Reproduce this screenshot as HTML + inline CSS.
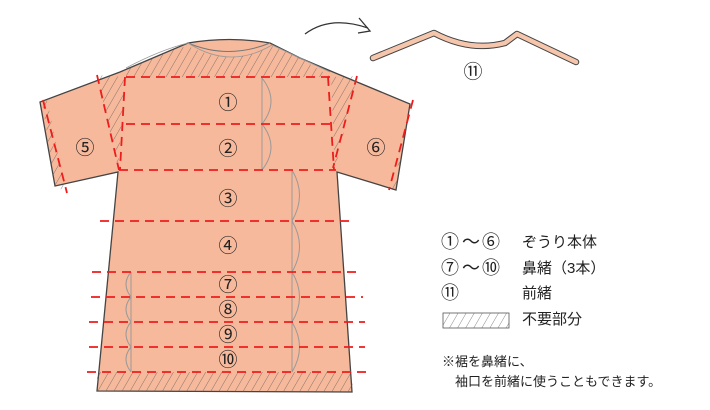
<!DOCTYPE html>
<html><head><meta charset="utf-8"><style>
html,body{margin:0;padding:0;background:#fff;}
svg{display:block}
text{font-family:"Liberation Sans","Noto Sans CJK JP",sans-serif;fill:#222}
</style></head><body>
<svg width="710" height="410" viewBox="0 0 710 410" xmlns="http://www.w3.org/2000/svg">
<defs>
<pattern id="h" width="7" height="7" patternUnits="userSpaceOnUse" patternTransform="rotate(30)">
<line x1="0" y1="0" x2="0" y2="7" stroke="#555" stroke-width="0.7"/>
</pattern>
</defs>
<path d="M188,43 Q230,36 270,43 L300,58 L333,72 L410,104 L396,190 L337,172 L352,392 L97,391 L118,172 L55,186 L40,102 L120,72 Z" fill="#f7b99b" stroke="#444" stroke-width="1.3"/>
<path d="M188,43 Q228,60 270,43" fill="none" stroke="#777" stroke-width="1"/>
<path d="M126,68 Q160,50 188,43 Q230,70 272,45 L330,72" fill="none" stroke="#999" stroke-width="0.8"/>
<path d="M126,70 Q160,52 188,46 Q230,68 272,46 L300,58 L331,77 L126,77 Z" fill="url(#h)"/>
<path d="M97,75 L125,77 L118,170 L119,172 Z" fill="url(#h)"/>
<path d="M331,77 L357,76 L335,170 Z" fill="url(#h)"/>
<path d="M97,372 L352,372 L353,392 L97,391 Z" fill="url(#h)"/>
<path d="M42,102 L47,100 L66,192 L55,186 Z" fill="url(#h)"/>
<path d="M410,104 L413,100 L392,190 L396,190 Z" fill="url(#h)"/>
<g fill="none" stroke="#999" stroke-width="1">
<line x1="262" y1="78" x2="262" y2="170"/>
<path d="M262,78 Q280,101 262,124 Q280,147 262,170"/>
<line x1="292" y1="170" x2="292" y2="372"/>
<path d="M292,170 Q307,195 292,221 Q307,246 292,272 Q307,297 292,322 Q307,347 292,372"/>
<line x1="131" y1="272" x2="131" y2="372"/>
<path d="M131,272 Q121,284 131,297 Q121,309 131,322 Q121,334 131,347 Q121,359 131,372"/>
</g>
<g stroke="#ee1c1c" stroke-width="1.8" stroke-dasharray="9,6" fill="none">
<line x1="126" y1="77" x2="331" y2="77"/>
<line x1="126" y1="124" x2="331" y2="124"/>
<line x1="119" y1="170" x2="336" y2="170"/>
<line x1="100" y1="221" x2="352" y2="221"/>
<line x1="92" y1="272" x2="362" y2="272"/>
<line x1="91" y1="297" x2="363" y2="297"/>
<line x1="89" y1="322" x2="365" y2="322"/>
<line x1="89" y1="347" x2="365" y2="347"/>
<line x1="87" y1="372" x2="367" y2="372"/>
<line x1="97" y1="75" x2="119" y2="170"/>
<line x1="125" y1="77" x2="120" y2="170"/>
<line x1="328" y1="77" x2="334" y2="170"/>
<line x1="357" y1="76" x2="333" y2="168"/>
<line x1="43" y1="100" x2="67" y2="193"/>
<line x1="413" y1="100" x2="389" y2="190"/>
</g>
<g font-size="19" text-anchor="middle">
<text x="228" y="109">①</text>
<text x="228" y="155">②</text>
<text x="228" y="205">③</text>
<text x="228" y="252">④</text>
<text x="228" y="291">⑦</text>
<text x="228" y="316">⑧</text>
<text x="228" y="341">⑨</text>
<text x="228" y="366">⑩</text>
<text x="85" y="154">⑤</text>
<text x="376" y="154">⑥</text>
<text x="473" y="78">⑪</text>
</g>
<path d="M305,34 Q330,15 368,28" fill="none" stroke="#333" stroke-width="1.3"/>
<path d="M359,18 L370,31 L358,33" fill="none" stroke="#333" stroke-width="1.3"/>
<path d="M373,58 L434,33 Q470,52 505,43 L517,34 L576,62" fill="none" stroke="#444" stroke-width="6.5" stroke-linejoin="round" stroke-linecap="round"/>
<path d="M373,58 L434,33 Q470,52 505,43 L517,34 L576,62" fill="none" stroke="#f6c6ac" stroke-width="4.5" stroke-linejoin="round" stroke-linecap="round"/>
<g font-size="18">
<text x="441" y="248">①</text><text x="462" y="248">～</text><text x="482" y="248">⑥</text>
<text x="441" y="274">⑦</text><text x="462" y="274">～</text><text x="482" y="274">⑩</text>
<text x="441" y="299">⑪</text>
</g>
<g font-size="15">
<text x="522" y="247">ぞうり本体</text>
<text x="522" y="273">鼻緒（3本）</text>
<text x="522" y="298">前緒</text>
<text x="522" y="324">不要部分</text>
</g>
<rect x="443" y="313" width="66" height="15" fill="url(#h)" stroke="#555" stroke-width="0.8"/>
<g font-size="13">
<text x="442" y="366">※裾を鼻緒に、</text>
<text x="455" y="386">袖口を前緒に使うこともできます。</text>
</g>
</svg>
</body></html>
